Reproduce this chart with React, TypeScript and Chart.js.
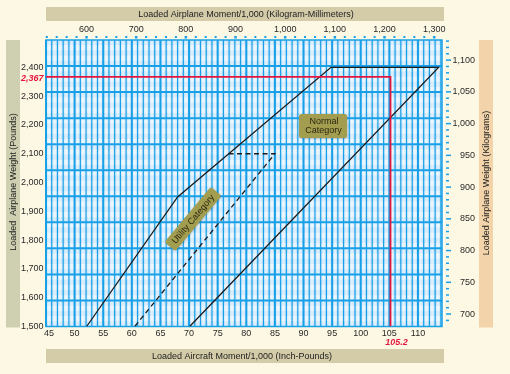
import React, { useEffect, useRef } from 'react';
import { Chart, registerables } from 'chart.js';

Chart.register(...registerables);

// ---- Data ----
const momentTicks = [45, 50, 55, 60, 65, 70, 75, 80, 85, 90, 95, 100, 105, 110];
const weightTicks = [1500, 1600, 1700, 1800, 1900, 2000, 2100, 2200, 2300, 2400];
const kgMmTicks = [600, 700, 800, 900, 1000, 1100, 1200, 1300];
const kgTicks = [700, 750, 800, 850, 900, 950, 1000, 1050, 1100];

const normalMoment = [52.1, 68.0, 94.8, 113.6, 70.1];
const normalWeight = [1500, 1950, 2400, 2400, 1500];
const utilityMoment = [76.9, 85.0, 60.5];
const utilityWeight = [2100, 2100, 1500];
const exampleMoment = [45, 105.2, 105.2];
const exampleWeight = [2367, 2367, 1500];
const exampleMomentLabel = '105.2';
const exampleWeightLabel = '2,367';

const X_MIN = 45;
const X_MAX = 114.2;
const Y_MIN = 1500;
const Y_MAX = 2495;
const IN_LB_TO_KG_MM = 11.521246;
const LB_PER_KG = 2.20462;

const FONT = '"Liberation Sans", Arial, Helvetica, sans-serif';
const BLUE = '#17a0e8';
const TXT = '#2a2a2a';
const RED = '#e3163d';

const fmt = (v: number) => v.toLocaleString('en-US');

const toPts = (xs: number[], ys: number[]) => xs.map((x, i) => ({ x, y: ys[i] }));

const paperPlugin = {
  id: 'paper',
  beforeDraw(chart: any) {
    const ctx = chart.ctx as CanvasRenderingContext2D;
    const ca = chart.chartArea;
    const sx = chart.scales.x;
    const sy = chart.scales.y;
    const sxt = chart.scales.xTop;
    const syk = chart.scales.yKg;
    const w = ca.right - ca.left;
    const h = ca.bottom - ca.top;
    ctx.save();
    ctx.fillStyle = '#fdf8e3';
    ctx.fillRect(0, 0, chart.width, chart.height);

    // title bars
    ctx.fillStyle = '#d4cba8';
    ctx.fillRect(ca.left, 7, w + 2, 14);
    ctx.fillRect(ca.left, 349, w + 2, 14);
    ctx.fillStyle = '#cfd0b1';
    ctx.fillRect(6, ca.top, 14, h + 1);
    ctx.fillStyle = '#f3d4aa';
    ctx.fillRect(479, ca.top, 14, h + 1);

    ctx.fillStyle = '#222';
    ctx.font = `9px ${FONT}`;
    ctx.textAlign = 'center';
    ctx.textBaseline = 'middle';
    ctx.fillText('Loaded Airplane Moment/1,000 (Kilogram-Millimeters)', 246, 14.5);
    ctx.fillText('Loaded Aircraft Moment/1,000 (Inch-Pounds)', 242, 356.5);
    ctx.save();
    ctx.translate(13.5, 182);
    ctx.rotate(-Math.PI / 2);
    ctx.fillText('Loaded  Airplane Weight (Pounds)', 0, 0);
    ctx.restore();
    ctx.save();
    ctx.translate(486.5, 183);
    ctx.rotate(-Math.PI / 2);
    ctx.fillText('Loaded Airplane Weight (Kilograms)', 0, 0);
    ctx.restore();

    // plot paper
    ctx.fillStyle = '#c6e3fa';
    ctx.fillRect(ca.left, ca.top, w, h);
    ctx.fillStyle = 'rgba(255,255,255,0.42)';
    const rows = 55;
    const rowH = h / rows;
    for (let i = 0; i < rows; i++) {
      if (i % 2 === 1) ctx.fillRect(ca.left, ca.top + i * rowH, w, rowH);
    }
    for (let m = X_MIN; m < X_MAX; m += 1) {
      const xa = sx.getPixelForValue(m + 0.3);
      const xb = sx.getPixelForValue(m + 0.7);
      ctx.fillRect(xa, ca.top, xb - xa, h);
    }
    ctx.strokeStyle = BLUE;
    for (let m = Math.ceil(X_MIN); m <= X_MAX; m += 1) {
      const x = sx.getPixelForValue(m);
      ctx.lineWidth = m % 5 === 0 ? 2 : 1.2;
      ctx.beginPath();
      ctx.moveTo(x, ca.top);
      ctx.lineTo(x, ca.bottom);
      ctx.stroke();
    }
    ctx.lineWidth = 2;
    for (let i = 1; i < 11; i++) {
      const y = ca.bottom - (i * h) / 11;
      ctx.beginPath();
      ctx.moveTo(ca.left, y);
      ctx.lineTo(ca.right, y);
      ctx.stroke();
    }
    ctx.lineWidth = 1.5;
    ctx.strokeRect(ca.left, ca.top, w, h);

    // bottom labels
    ctx.fillStyle = TXT;
    ctx.font = `9px ${FONT}`;
    ctx.textAlign = 'center';
    ctx.textBaseline = 'middle';
    momentTicks.forEach((v) => {
      let x = sx.getPixelForValue(v);
      const tw = ctx.measureText(String(v)).width;
      x = Math.max(x, ca.left + tw / 2 - 2);
      ctx.fillText(String(v), x, 334);
    });
    // left labels
    ctx.textAlign = 'right';
    weightTicks.forEach((v) => {
      ctx.fillText(fmt(v), ca.left - 2.5, sy.getPixelForValue(v));
    });
    // top labels
    ctx.textAlign = 'center';
    kgMmTicks.forEach((v) => {
      ctx.fillText(fmt(v), sxt.getPixelForValue(v), 29.5);
    });
    // right labels
    ctx.textAlign = 'right';
    kgTicks.forEach((v) => {
      ctx.fillText(fmt(v), 475, syk.getPixelForValue(v));
    });

    // top dots
    ctx.fillStyle = BLUE;
    const kmMin = Math.ceil(sxt.min / 20) * 20;
    for (let v = kmMin; v <= sxt.max; v += 20) {
      const x = sxt.getPixelForValue(v);
      const s = v % 100 === 0 ? 2.5 : 2;
      ctx.fillRect(x - s / 2, 36, s, s);
    }
    // right dashes
    const kgMin = Math.ceil(syk.min / 10) * 10;
    for (let v = kgMin; v <= syk.max; v += 10) {
      const y = syk.getPixelForValue(v);
      const len = v % 50 === 0 ? 5 : 3;
      ctx.fillRect(446, y - 0.75, len, 1.5);
    }
    ctx.restore();
  },
  afterDatasetsDraw(chart: any) {
    const ctx = chart.ctx as CanvasRenderingContext2D;
    const ca = chart.chartArea;
    const sx = chart.scales.x;
    const sy = chart.scales.y;
    ctx.save();
    // red labels
    ctx.fillStyle = RED;
    ctx.font = `italic bold 9px ${FONT}`;
    ctx.textBaseline = 'middle';
    ctx.textAlign = 'right';
    ctx.fillText(exampleWeightLabel, ca.left - 2.5, sy.getPixelForValue(exampleWeight[0]) + 1.5);
    ctx.textAlign = 'center';
    ctx.fillText(exampleMomentLabel, sx.getPixelForValue(exampleMoment[1]) + 6, 342.5);

    // Normal Category box
    const box = (x: number, y: number, bw: number, bh: number) => {
      ctx.shadowColor = 'rgba(0,0,0,0.25)';
      ctx.shadowBlur = 2;
      ctx.shadowOffsetX = 0.5;
      ctx.shadowOffsetY = 0.5;
      ctx.fillStyle = '#a39e4f';
      ctx.beginPath();
      (ctx as any).roundRect(x, y, bw, bh, 2.5);
      ctx.fill();
      ctx.shadowColor = 'transparent';
    };
    box(299, 114, 48, 24);
    ctx.fillStyle = '#2b2612';
    ctx.font = `9px ${FONT}`;
    ctx.textAlign = 'center';
    ctx.fillText('Normal', 324, 121.5);
    ctx.fillText('Category', 323.5, 131);

    // Utility Category box (rotated)
    ctx.save();
    ctx.translate(193, 219);
    ctx.rotate((-50 * Math.PI) / 180);
    box(-36, -7, 72, 14);
    ctx.fillStyle = '#2b2612';
    ctx.font = `9px ${FONT}`;
    ctx.textAlign = 'center';
    ctx.fillText('Utility Category', 0, 0.5);
    ctx.restore();
    ctx.restore();
  },
};

export default function App() {
  const ref = useRef<HTMLCanvasElement | null>(null);
  useEffect(() => {
    if (!ref.current) return;
    const chart = new Chart(ref.current, {
      type: 'scatter',
      data: {
        datasets: [
          {
            data: toPts(exampleMoment, exampleWeight),
            showLine: true,
            borderColor: RED,
            borderWidth: 1.8,
            pointRadius: 0,
            fill: false,
          },
          {
            data: toPts(normalMoment, normalWeight),
            showLine: true,
            borderColor: '#1b1b1b',
            borderWidth: 1.3,
            pointRadius: 0,
            fill: false,
          },
          {
            data: toPts(utilityMoment, utilityWeight),
            showLine: true,
            borderColor: '#1b1b1b',
            borderWidth: 1.3,
            borderDash: [5, 3.5],
            pointRadius: 0,
            fill: false,
          },
        ],
      } as any,
      options: {
        animation: false,
        responsive: false,
        devicePixelRatio: 1,
        layout: { padding: { left: 46, right: 68, top: 40, bottom: 47.5 } },
        plugins: { legend: { display: false }, tooltip: { enabled: false } },
        scales: {
          x: { type: 'linear', min: X_MIN, max: X_MAX, display: false },
          y: { type: 'linear', min: Y_MIN, max: Y_MAX, display: false },
          xTop: {
            type: 'linear',
            axis: 'x',
            position: 'top',
            min: X_MIN * IN_LB_TO_KG_MM,
            max: X_MAX * IN_LB_TO_KG_MM,
            display: false,
          },
          yKg: {
            type: 'linear',
            axis: 'y',
            position: 'right',
            min: Y_MIN / LB_PER_KG,
            max: Y_MAX / LB_PER_KG,
            display: false,
          },
        },
      } as any,
      plugins: [paperPlugin],
    });
    return () => chart.destroy();
  }, []);
  return (
    <div style={{ position: 'absolute', left: 0, top: 0, width: 510, height: 374 }}>
      <canvas ref={ref} width={510} height={374} style={{ display: 'block', width: 510, height: 374 }} />
    </div>
  );
}
